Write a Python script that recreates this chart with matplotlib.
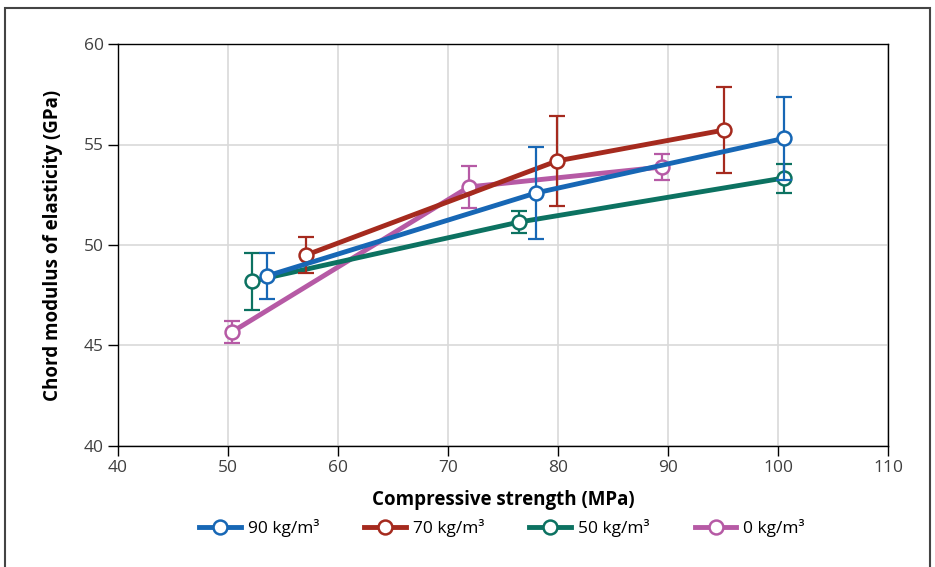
import matplotlib
matplotlib.use("Agg")
import matplotlib.pyplot as plt
from matplotlib.patches import Rectangle

plt.rcParams['font.family'] = ['Open Sans', 'DejaVu Sans']

labels = ["90 kg/m³", "70 kg/m³", "50 kg/m³", "0 kg/m³"]
colors = ["#1767b5", "#a52a1e", "#0c7261", "#b65aa5"]

x90 = [53.55, 78.0, 100.5]
y90 = [48.46, 52.59, 55.3]
e90 = [1.15, 2.27, 2.05]

x70 = [57.1, 79.9, 95.1]
y70 = [49.5, 54.18, 55.72]
e70 = [0.9, 2.24, 2.12]

x50 = [52.2, 76.45, 100.5]
y50 = [48.2, 51.14, 53.33]
e50 = [1.42, 0.55, 0.72]

x0 = [50.35, 71.9, 89.45]
y0 = [45.67, 52.89, 53.88]
e0 = [0.57, 1.05, 0.67]

xs = [x90, x70, x50, x0]
ys = [y90, y70, y50, y0]
es = [e90, e70, e50, e0]
zorders = [6, 5, 4, 3]

fig = plt.figure(figsize=(9.35, 5.67), dpi=100)
ax = fig.add_axes([118/935, 1-446/567, (888-118)/935, (446-44)/567])

handles = []
for x, y, e, c, lab, z in zip(xs, ys, es, colors, labels, zorders):
    ax.errorbar(x, y, yerr=e, fmt='none', ecolor=c, elinewidth=1.6,
                capsize=6, capthick=1.6, zorder=z)
    h, = ax.plot(x, y, color=c, lw=3.5, marker='o', ms=10,
                 mfc='white', mec=c, mew=1.8, zorder=z + 0.5, label=lab)
    handles.append(h)

ax.set_xlim(40, 110)
ax.set_ylim(40, 60)
ax.set_xticks(range(40, 111, 10))
ax.set_yticks(range(40, 61, 5))
ax.grid(True, color='#d9d9d9', lw=1.2, zorder=0)
ax.set_axisbelow(True)
for s in ax.spines.values():
    s.set_color('black')
    s.set_linewidth(1.0)
ax.tick_params(direction='out', length=7, width=1.0, labelsize=12.5,
               labelcolor='#404040', pad=3)
ax.set_xlabel('Compressive strength (MPa)', fontsize=13.5, fontweight='bold',
              labelpad=10)
ax.set_ylabel('Chord modulus of elasticity (GPa)', fontsize=13.5,
              fontweight='bold', labelpad=15)

fig.legend(handles=handles, loc='center', bbox_to_anchor=(502/935, 1-528/567),
           ncol=4, frameon=False, fontsize=12.5, handlelength=2.4,
           columnspacing=2.6, handletextpad=0.4)

fig.patches.append(Rectangle((5/935, -0.1), (930-5)/935, 1.1 - 8/567,
                             transform=fig.transFigure, fill=False,
                             edgecolor='#444444', lw=1.5, clip_on=False))

fig.savefig('out.png', dpi=100)
